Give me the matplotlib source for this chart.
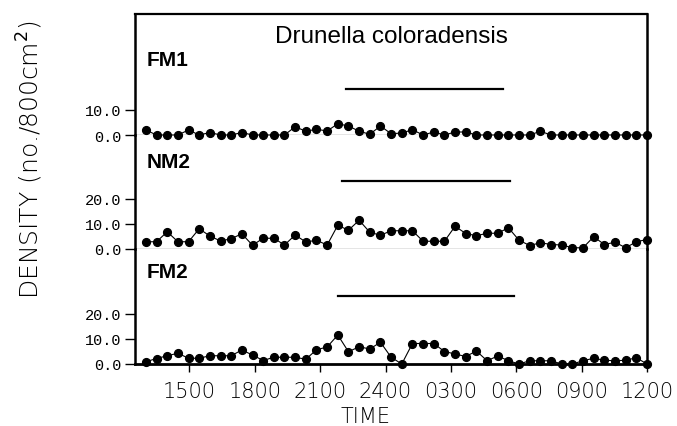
import numpy as np
import matplotlib.pyplot as plt

# sample times in hours after 1200 on day 1 (1300 ... 1200 next day, 48 samples)
hours = np.linspace(1.0, 24.0, 48)

fm1 = [2.0, 0, 0, 0, 2.0, 0, 1.0, 0, 0, 1.0, 0, 0, 0, 0, 3.3, 1.5, 2.3, 1.6, 4.5, 3.6,
       1.5, 0.3, 3.6, 0.5, 0.8, 2.1, 0, 1.2, 0, 1.2, 1.2, 0, 0, 0, 0, 0, 0, 1.5, 0, 0,
       0, 0, 0, 0, 0, 0, 0, 0]
nm2 = [2.9, 2.9, 6.9, 2.9, 2.9, 8.1, 5.2, 3.2, 4.1, 6.1, 1.5, 4.3, 4.3, 1.6, 5.6, 2.8,
       3.5, 1.6, 9.5, 7.5, 11.5, 6.7, 5.5, 7.3, 7.3, 7.3, 3.1, 3.1, 3.1, 9.1, 6.2, 5.3,
       6.3, 6.3, 8.5, 3.5, 1.4, 2.5, 1.8, 1.6, 0.5, 0.5, 4.9, 1.8, 2.7, 0.5, 2.9, 3.8]
fm2 = [0.9, 2.2, 3.3, 4.3, 2.3, 2.3, 3.3, 3.3, 3.3, 5.6, 3.6, 1.4, 2.7, 2.7, 2.7, 1.9,
       5.7, 6.8, 11.6, 4.9, 6.9, 6.0, 8.7, 2.7, 0, 8.2, 8.2, 8.2, 5.0, 4.0, 3.0, 5.2,
       1.3, 3.2, 1.3, 0, 1.3, 1.3, 1.3, 0, 0, 1.3, 2.3, 1.5, 1.3, 1.5, 2.5, 0]

panels = ["FM1", "NM2", "FM2"]
series = [fm1, nm2, fm2]
# dark period bars (hours after 1200) and their height
night_start = [10.2, 10.0, 9.8]
night_end = [17.4, 17.7, 17.9]
night_level = [18.4, 27.2, 27.2]
yticks = [[0, 10], [0, 10, 20], [0, 10, 20]]

xticks = [3, 6, 9, 12, 15, 18, 21, 24]
xlabels = ["1500", "1800", "2100", "2400", "0300", "0600", "0900", "1200"]

W, H = 677, 427
fig = plt.figure(figsize=(W / 100, H / 100), dpi=100)

left, right = 135, 647
# panel (top px, bottom px) in image coordinates
edges = [(15, 136), (136, 250), (250, 365)]
px_per_unit = 2.5
tickfont = {"family": "Liberation Mono", "size": 11}

for i, (name, vals) in enumerate(zip(panels, series)):
    top, bot = edges[i]
    ax = fig.add_axes([left / W, 1 - bot / H, (right - left) / W, (bot - top) / H])
    ax.set_xlim(0.5, 24)
    ax.set_ylim(0, (bot - top) / px_per_unit)
    ax.set_facecolor("none")

    ax.plot(hours, vals, "-o", color="black", lw=0.8, markersize=5.6,
            clip_on=False, zorder=5)
    ax.plot([night_start[i], night_end[i]], [night_level[i]] * 2, color="black", lw=1.6)
    ax.text(0.022, [0.62, 0.77, 0.80][i], name, transform=ax.transAxes,
            fontsize=15, fontweight="bold", family="Liberation Sans", va="center")

    ax.set_yticks(yticks[i])
    ax.set_yticklabels(["%.1f" % v for v in yticks[i]], fontdict=tickfont)
    ax.tick_params(axis="y", direction="out", length=7, width=1.0, pad=3)

    for s in ["left", "right"]:
        ax.spines[s].set_linewidth(1.8)
    if i == 0:
        ax.spines["top"].set_linewidth(1.6)
        ax.text(0.5, 0.82, "Drunella coloradensis", transform=ax.transAxes,
                ha="center", va="center", fontsize=17.5, family="Liberation Sans")
    else:
        ax.spines["top"].set_visible(False)

    if i < 2:
        ax.spines["bottom"].set_visible(False)
        ax.axhline(0, color="#333333", lw=0.9, zorder=1)
        ax.set_xticks([])
    else:
        ax.spines["bottom"].set_linewidth(2.0)
        ax.set_xticks(xticks)
        ax.set_xticklabels(xlabels, family="DejaVu Sans", fontsize=15,
                           fontweight="light")
        ax.tick_params(axis="x", direction="out", length=6, width=1.0, pad=6)

fig.text(366 / W, 1 - 417 / H, "TIME", ha="center", va="center", fontsize=15,
         family="DejaVu Sans", fontweight="light")
fig.text(30 / W, 1 - 160 / H, "DENSITY (no./800cm$^2$)", rotation=90,
         ha="center", va="center", fontsize=18, family="DejaVu Sans",
         fontweight="light")

fig.savefig("out.png", dpi=100)
